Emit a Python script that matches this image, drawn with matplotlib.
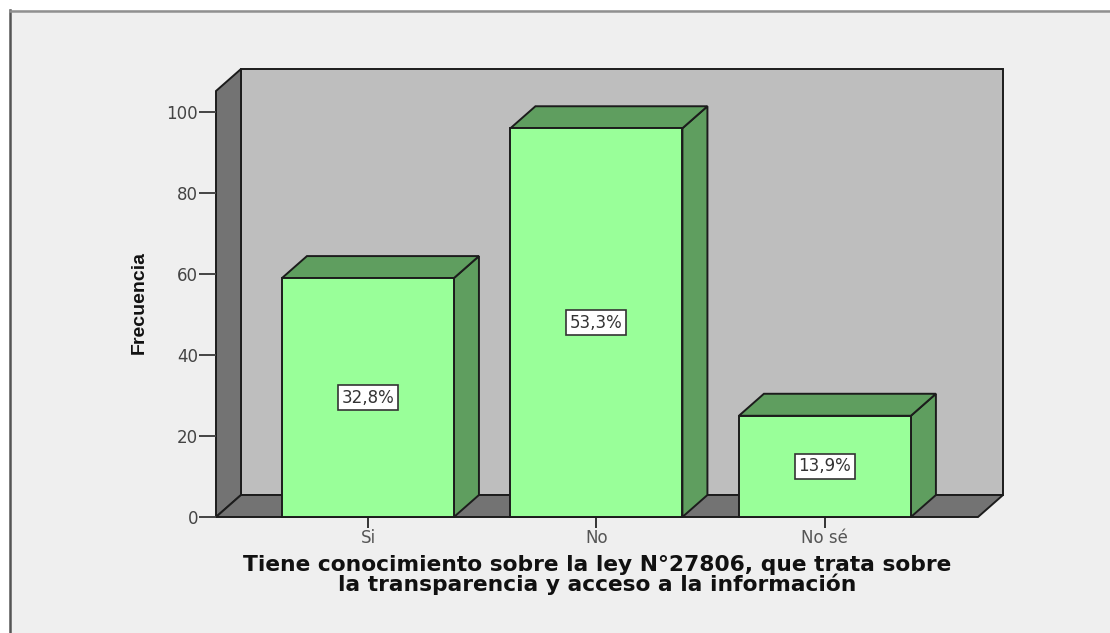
import matplotlib
matplotlib.use('Agg')
import matplotlib.pyplot as plt
from matplotlib.patches import Polygon, Rectangle

categorias = ['Si', 'No', 'No sé']
frecuencias = [59, 96, 25]
porcentajes = ['32,8%', '53,3%', '13,9%']
yticks = [0, 20, 40, 60, 80, 100]
xlabel = 'Tiene conocimiento sobre la ley N°27806, que trata sobre\nla transparencia y acceso a la información'

W, H = 1110, 633
# depth of the fake 3D box, in data units
DX = 25 / 228.5
DY = 22 / 4.05
BAR_W = 172 / 228.5
XMIN, XMAX = -0.665, 2.67
YMAX = 105.2

plt.rcParams['font.family'] = ['DejaVu Sans']

fig = plt.figure(figsize=(W / 100, H / 100), dpi=100, facecolor='white')

# grey panel behind the chart
fig.add_artist(Rectangle((10 / W, 0), 1 - 10 / W, 1 - 10 / H, transform=fig.transFigure,
                         facecolor='#efefef', edgecolor='none', zorder=-5))
fig.add_artist(plt.Line2D([10 / W, 10 / W], [0, 1 - 10 / H], color='#555555', lw=1.8, zorder=-4))
fig.add_artist(plt.Line2D([10 / W, 1], [1 - 10.5 / H, 1 - 10.5 / H], color='#909090', lw=1.8, zorder=-4))

ax = fig.add_axes([216 / W, 1 - 517 / H, 762 / W, 426 / H])
ax.set_xlim(XMIN, XMAX)
ax.set_ylim(0, YMAX)
ax.patch.set_visible(False)
for s in ax.spines.values():
    s.set_visible(False)


def poly(pts, color, z=1, lw=1.4):
    ax.add_patch(Polygon(pts, closed=True, facecolor=color, edgecolor='#1c1c1c',
                         lw=lw, clip_on=False, zorder=z, joinstyle='miter'))


# back wall, side wall and floor
poly([(XMIN + DX, DY), (XMAX + DX, DY), (XMAX + DX, YMAX + DY), (XMIN + DX, YMAX + DY)], '#bebebe')
poly([(XMIN, 0), (XMIN + DX, DY), (XMIN + DX, YMAX + DY), (XMIN, YMAX)], '#737373')
poly([(XMIN, 0), (XMAX, 0), (XMAX + DX, DY), (XMIN + DX, DY)], '#737373')

for i, v in enumerate(frecuencias):
    x0 = i - BAR_W / 2
    x1 = i + BAR_W / 2
    poly([(x1, 0), (x1 + DX, DY), (x1 + DX, v + DY), (x1, v)], '#5f9e5f', z=2)
    poly([(x0, v), (x1, v), (x1 + DX, v + DY), (x0 + DX, v + DY)], '#5f9e5f', z=2)
    poly([(x0, 0), (x1, 0), (x1, v), (x0, v)], '#99ff99', z=3)
    ax.text(i, v / 2, porcentajes[i], ha='center', va='center', fontsize=12, color='#333333', zorder=4,
            bbox=dict(boxstyle='square,pad=0.22', facecolor='white', edgecolor='#333333', lw=1.2))

ax.set_xticks(range(len(categorias)))
ax.set_xticklabels(categorias, fontsize=12, color='#555555')
ax.set_yticks(yticks)
ax.set_yticklabels([str(t) for t in yticks], fontsize=12, color='#444444')
ax.tick_params(axis='x', length=8, width=1.4, color='#333333', pad=0.5)
ax.tick_params(axis='y', length=12, width=1.4, color='#444444', pad=1)

fig.text(597 / W, 1 - 575 / H, xlabel, ha='center', va='center', fontsize=15.7, fontweight='bold',
         linespacing=0.9, color='#111111')
fig.text(139 / W, 1 - 303 / H, 'Frecuencia', rotation=90, ha='center', va='center', fontsize=14,
         fontweight='bold', family=['Liberation Sans Narrow', 'Liberation Sans'], color='#111111')

fig.savefig('out.png', dpi=100, facecolor='white')
